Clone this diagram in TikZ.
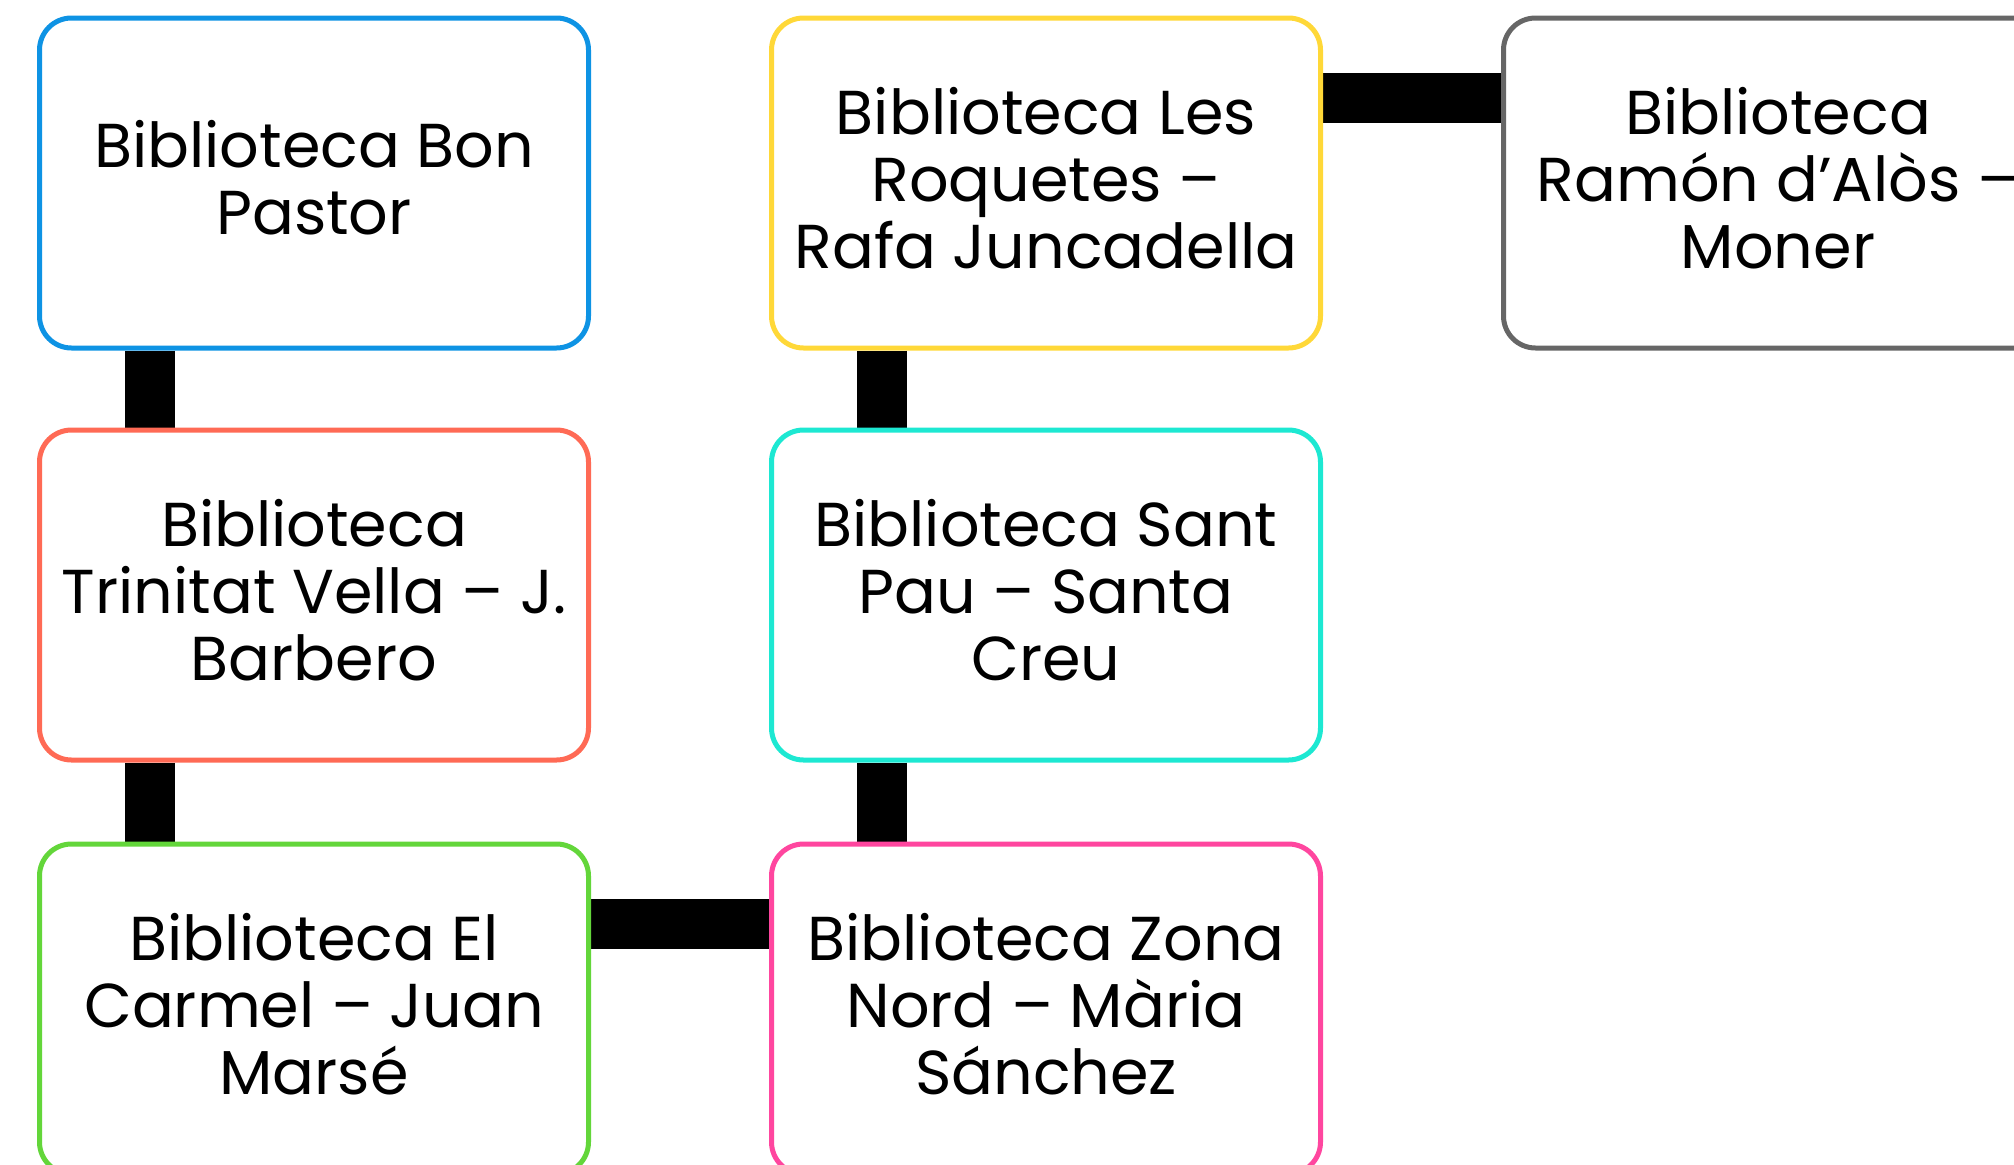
\documentclass[tikz,border=0pt]{standalone}
\usepackage{fontspec}
\setmainfont{Poppins}
\usetikzlibrary{backgrounds}
\definecolor{cblue}{HTML}{0E93E4}
\definecolor{cred}{HTML}{FF6A55}
\definecolor{cgreen}{HTML}{63D63A}
\definecolor{cyellow}{HTML}{FFD838}
\definecolor{ccyan}{HTML}{1DE8D2}
\definecolor{cpink}{HTML}{FF469F}
\definecolor{cgray}{HTML}{666666}
\begin{document}
\begin{tikzpicture}[x=1pt,y=-1pt,
  libbox/.style={draw=#1, fill=white, line width=5pt, rounded corners=32pt,
    minimum width=549pt, minimum height=330pt, align=center, inner sep=0pt,
    text depth=11pt,
    font=\fontsize{62}{67}\selectfont, text=black},
  conn/.style={draw=black, line width=50pt}]
\useasboundingbox (0,0) rectangle (2014,1165);
\clip (0,0) rectangle (2014,1165);
\node[libbox=cblue]   (bon)  at (314,183)  {Biblioteca Bon\\Pastor};
\node[libbox=cred]    (tri)  at (314,595)  {Biblioteca\\Trinitat Vella – J.\\Barbero};
\node[libbox=cgreen]  (car)  at (314,1009) {Biblioteca El\\Carmel – Juan\\Marsé};
\node[libbox=cyellow] (roq)  at (1046,183) {Biblioteca Les\\Roquetes –\\Rafa Juncadella};
\node[libbox=ccyan]   (pau)  at (1046,595) {Biblioteca Sant\\Pau – Santa\\Creu};
\node[libbox=cpink]   (zon)  at (1046,1009) {Biblioteca Zona\\Nord – Mària\\Sánchez};
\node[libbox=cgray]   (ram)  at (1778,183) {Biblioteca\\Ramón d’Alòs –\\Moner};
\begin{scope}[on background layer]
\draw[conn] ([xshift=-164pt]bon.south) -- ([xshift=-164pt]tri.north);
\draw[conn] ([xshift=-164pt]tri.south) -- ([xshift=-164pt]car.north);
\draw[conn] ([xshift=-164pt]roq.south) -- ([xshift=-164pt]pau.north);
\draw[conn] ([xshift=-164pt]pau.south) -- ([xshift=-164pt]zon.north);
\draw[conn] ([yshift=85pt]car.east) -- ([yshift=85pt]zon.west);
\draw[conn] ([yshift=85pt]roq.east) -- ([yshift=85pt]ram.west);
\end{scope}
\end{tikzpicture}
\end{document}
